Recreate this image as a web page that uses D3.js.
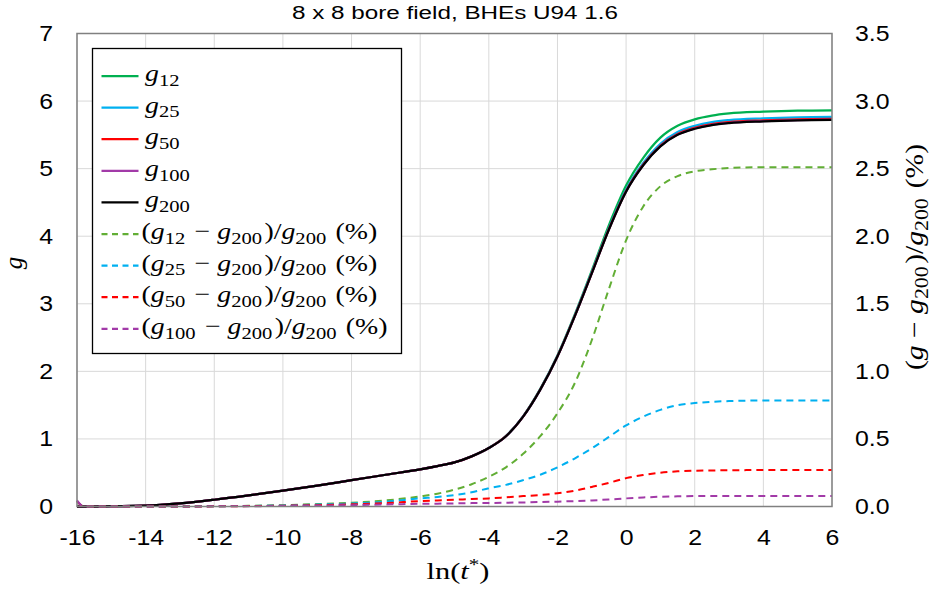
<!DOCTYPE html>
<html>
<head>
<meta charset="utf-8">
<script src="https://cdn.jsdelivr.net/npm/d3@7"></script>
<style>
  body { margin: 0; background: #fff; }
  svg { display: block; }
</style>
</head>
<body>
<svg id="chart"></svg>
<script>
// Размеры
const width = 931;
const height = 591;
const plotLeft = 77, plotRight = 832, plotTop = 33.5, plotBottom = 506.5;

// Данные: ln(t*)
const lnt = [-16, -15.8, -15, -14, -13, -12, -11, -10, -9, -8, -7, -6, -5.5, -5, -4.5, -4, -3.5, -3, -2.5, -2, -1.5, -1, -0.5, 0, 0.5, 1, 1.5, 2, 2.5, 3, 4, 5, 6];

// g-функции (левая ось)
const g12  = [0, 0, 0.005, 0.012, 0.045, 0.10, 0.165, 0.235, 0.31, 0.39, 0.47, 0.55, 0.598, 0.653, 0.743, 0.867, 1.043, 1.335, 1.74, 2.235, 2.835, 3.49, 4.165, 4.75, 5.16, 5.46, 5.635, 5.73, 5.785, 5.817, 5.843, 5.859, 5.864];
const g25  = [0, 0, 0.005, 0.012, 0.045, 0.10, 0.165, 0.235, 0.31, 0.39, 0.47, 0.55, 0.598, 0.652, 0.743, 0.866, 1.042, 1.333, 1.734, 2.226, 2.82, 3.465, 4.12, 4.688, 5.083, 5.368, 5.541, 5.633, 5.689, 5.719, 5.745, 5.76, 5.765];
const g50  = [0, 0, 0.005, 0.012, 0.045, 0.10, 0.165, 0.235, 0.31, 0.39, 0.47, 0.55, 0.598, 0.652, 0.742, 0.865, 1.041, 1.331, 1.731, 2.222, 2.813, 3.455, 4.107, 4.67, 5.062, 5.343, 5.514, 5.605, 5.66, 5.69, 5.715, 5.73, 5.735];
const g100 = [0, 0, 0.005, 0.012, 0.045, 0.10, 0.165, 0.235, 0.31, 0.39, 0.47, 0.55, 0.598, 0.652, 0.742, 0.865, 1.04, 1.33, 1.73, 2.221, 2.811, 3.452, 4.102, 4.663, 5.053, 5.334, 5.504, 5.594, 5.649, 5.679, 5.704, 5.719, 5.724];
const g200 = [0, 0, 0.005, 0.012, 0.045, 0.10, 0.165, 0.235, 0.31, 0.39, 0.47, 0.55, 0.598, 0.652, 0.742, 0.865, 1.04, 1.33, 1.73, 2.22, 2.81, 3.45, 4.10, 4.66, 5.05, 5.33, 5.50, 5.59, 5.645, 5.675, 5.70, 5.715, 5.72];

// Отклонения в % (правая ось)
const p12  = [0.04, 0, 0, 0, 0, 0.002, 0.005, 0.01, 0.018, 0.028, 0.045, 0.075, 0.095, 0.125, 0.165, 0.22, 0.29, 0.39, 0.52, 0.69, 0.91, 1.23, 1.61, 1.97, 2.22, 2.37, 2.445, 2.48, 2.495, 2.505, 2.51, 2.51, 2.51];
const p25  = [0.04, 0, 0, 0, 0, 0.002, 0.004, 0.008, 0.014, 0.022, 0.035, 0.06, 0.07, 0.085, 0.105, 0.135, 0.16, 0.195, 0.235, 0.29, 0.355, 0.43, 0.515, 0.60, 0.665, 0.715, 0.75, 0.765, 0.775, 0.78, 0.785, 0.785, 0.785];
const p50  = [0.04, 0, 0, 0, 0, 0.001, 0.003, 0.006, 0.01, 0.016, 0.025, 0.04, 0.045, 0.05, 0.055, 0.06, 0.068, 0.077, 0.085, 0.098, 0.117, 0.145, 0.175, 0.21, 0.233, 0.25, 0.26, 0.265, 0.267, 0.268, 0.27, 0.27, 0.27];
const p100 = [0.045, 0, 0, 0, 0, 0.001, 0.002, 0.004, 0.007, 0.01, 0.015, 0.02, 0.021, 0.023, 0.025, 0.026, 0.028, 0.03, 0.033, 0.036, 0.04, 0.045, 0.052, 0.06, 0.067, 0.072, 0.075, 0.077, 0.078, 0.078, 0.078, 0.078, 0.078];

// Тики
const xTicks = [-16, -14, -12, -10, -8, -6, -4, -2, 0, 2, 4, 6];
const yTicks = [0, 1, 2, 3, 4, 5, 6, 7];
const y2Ticks = [0, 0.5, 1, 1.5, 2, 2.5, 3, 3.5];

const title = '8 x 8 bore field, BHEs U94 1.6';

// Серии
const series = [
  { name: 'g_12',  values: g12,  axis: 'left',  color: '#00b050', dash: null },
  { name: 'g_25',  values: g25,  axis: 'left',  color: '#00b0f0', dash: null },
  { name: 'g_50',  values: g50,  axis: 'left',  color: '#ff0000', dash: null },
  { name: 'g_100', values: g100, axis: 'left',  color: '#a23aa8', dash: null },
  { name: 'g_200', values: g200, axis: 'left',  color: '#000000', dash: null },
  { name: '(g_12 − g_200)/g_200 (%)',  values: p12,  axis: 'right', color: '#62ae35', dash: '7,5' },
  { name: '(g_25 − g_200)/g_200 (%)',  values: p25,  axis: 'right', color: '#00b0f0', dash: '7,5' },
  { name: '(g_50 − g_200)/g_200 (%)',  values: p50,  axis: 'right', color: '#ff0000', dash: '7,5' },
  { name: '(g_100 − g_200)/g_200 (%)', values: p100, axis: 'right', color: '#a23aa8', dash: '7,5' }
];

const svg = d3.select('#chart').attr('width', width).attr('height', height);

const x = d3.scaleLinear().domain([-16, 6]).range([plotLeft, plotRight]);
const y = d3.scaleLinear().domain([0, 7]).range([plotBottom, plotTop]);
const y2 = d3.scaleLinear().domain([0, 3.5]).range([plotBottom, plotTop]);

// Растяжение текста по ширине (шрифты шире, чем доступные)
function stretch(sel, factor) {
  sel.each(function () {
    const w = this.getComputedTextLength();
    d3.select(this).attr('textLength', w * factor).attr('lengthAdjust', 'spacingAndGlyphs');
  });
}

// Сетка
const grid = svg.append('g');
grid.selectAll('.vg').data(xTicks).enter().append('line')
  .attr('x1', d => x(d)).attr('x2', d => x(d))
  .attr('y1', plotTop).attr('y2', plotBottom)
  .attr('stroke', '#d9d9d9').attr('stroke-width', 1);
grid.selectAll('.hg').data(yTicks).enter().append('line')
  .attr('x1', plotLeft).attr('x2', plotRight)
  .attr('y1', d => y(d)).attr('y2', d => y(d))
  .attr('stroke', '#d9d9d9').attr('stroke-width', 1);

// Линии
const line = (scale, vals) => d3.line()
  .x((d, i) => x(lnt[i]))
  .y(d => scale(d))
  .curve(d3.curveMonotoneX)(vals);

series.forEach(s => {
  svg.append('path')
    .attr('d', line(s.axis === 'left' ? y : y2, s.values))
    .attr('fill', 'none')
    .attr('stroke', s.color)
    .attr('stroke-width', s.dash ? 2 : 2.25)
    .attr('stroke-dasharray', s.dash);
});

// Рамка
svg.append('rect')
  .attr('x', plotLeft).attr('y', plotTop)
  .attr('width', plotRight - plotLeft).attr('height', plotBottom - plotTop)
  .attr('fill', 'none').attr('stroke', '#808080').attr('stroke-width', 1.5);

// Оси
const tickFont = 'Liberation Sans, Arial, sans-serif';
const xAxis = svg.append('g').attr('transform', `translate(0,${plotBottom})`)
  .call(d3.axisBottom(x).tickValues(xTicks).tickFormat(d => String(d)).tickSize(0).tickPadding(23));
const yAxis = svg.append('g').attr('transform', `translate(${plotLeft},0)`)
  .call(d3.axisLeft(y).tickValues(yTicks).tickFormat(d => String(d)).tickSize(0).tickPadding(24));
const y2Axis = svg.append('g').attr('transform', `translate(${plotRight},0)`)
  .call(d3.axisRight(y2).tickValues(y2Ticks).tickFormat(d3.format('.1f')).tickSize(0).tickPadding(23));
[xAxis, yAxis, y2Axis].forEach(a => {
  a.select('.domain').remove();
  a.selectAll('text').attr('font-family', tickFont).attr('font-size', 22).attr('fill', '#000');
  stretch(a.selectAll('text'), 1.13);
});

// Заголовок
svg.append('text')
  .attr('x', 455).attr('y', 18.5)
  .attr('text-anchor', 'middle')
  .attr('font-family', tickFont).attr('font-size', 18)
  .attr('textLength', 326).attr('lengthAdjust', 'spacingAndGlyphs')
  .text(title);

// Формулы: g и нижние индексы
const mathFont = 'Liberation Serif, DejaVu Serif, serif';
function mathText(sel, str, size) {
  const parts = str.split(/(g_\d+|g)/).filter(p => p.length);
  parts.forEach(p => {
    if (p.startsWith('g')) {
      sel.append('tspan').attr('font-style', 'italic').text('g');
      if (p.length > 1) {
        sel.append('tspan').attr('font-size', size * 0.74).attr('dy', size * 0.2).text(p.slice(2));
        sel.append('tspan').attr('dy', -size * 0.2).text('\u200a');
      }
    } else {
      sel.append('tspan').text(p);
    }
  });
}

// Подписи осей
svg.append('text')
  .attr('transform', 'translate(22,263) rotate(-90)')
  .attr('text-anchor', 'middle')
  .attr('font-family', mathFont).attr('font-size', 25).attr('font-style', 'italic')
  .text('g');

const rLabel = svg.append('text')
  .attr('transform', 'translate(923,257) rotate(-90)')
  .attr('text-anchor', 'middle')
  .attr('font-family', mathFont).attr('font-size', 26)
  .attr('textLength', 226).attr('lengthAdjust', 'spacingAndGlyphs');
mathText(rLabel, '(g − g_200)/g_200 (%)', 26);

const xLabel = svg.append('text')
  .attr('x', 458).attr('y', 579)
  .attr('text-anchor', 'middle')
  .attr('font-family', mathFont).attr('font-size', 23)
  .attr('textLength', 63).attr('lengthAdjust', 'spacingAndGlyphs');
xLabel.append('tspan').text('ln(');
xLabel.append('tspan').attr('font-style', 'italic').text('t');
xLabel.append('tspan').attr('font-size', 16).attr('dy', -9).text('*');
xLabel.append('tspan').attr('dy', 9).text(')');

// Легенда
const legend = svg.append('g');
legend.append('rect')
  .attr('x', 92.5).attr('y', 48.5)
  .attr('width', 309).attr('height', 305)
  .attr('fill', '#fff').attr('stroke', '#000').attr('stroke-width', 1.3);

const rowY = i => 76 + i * 31.6;
series.forEach((s, i) => {
  legend.append('line')
    .attr('x1', 101.5).attr('x2', 138.5)
    .attr('y1', rowY(i)).attr('y2', rowY(i))
    .attr('stroke', s.color).attr('stroke-width', 2.25)
    .attr('stroke-dasharray', s.dash ? '6,4.5' : null);
  const t = legend.append('text')
    .attr('x', s.dash ? 141.5 : 145).attr('y', rowY(i) + 5)
    .attr('font-family', mathFont).attr('font-size', 24);
  mathText(t, s.name, 24);
  stretch(t, 1.16);
});
</script>
</body>
</html>
